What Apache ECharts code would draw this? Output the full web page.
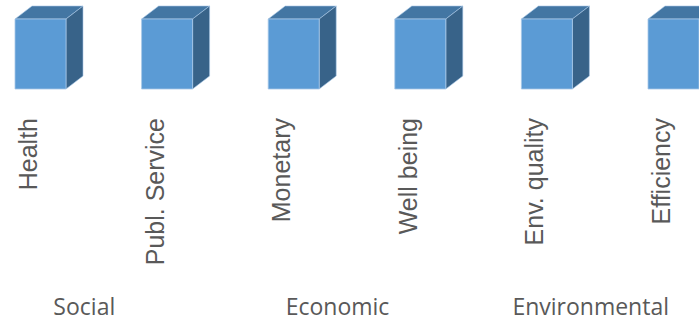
<!DOCTYPE html>
<html>
<head>
<meta charset="utf-8">
<script src="https://cdn.jsdelivr.net/npm/echarts@6/dist/echarts.min.js"></script>
<style>html,body{margin:0;padding:0;background:#fff;}#c{width:699px;height:323px;}</style>
</head>
<body>
<div id="c"></div>
<script>
const categories = ['Health', 'Publ. Service', 'Monetary', 'Well being', 'Env. quality', 'Efficiency'];
const values = [1, 1, 1, 1, 1, 1];
const groups = ['Social', 'Economic', 'Environmental'];
const groupStart = [0, 2, 4];
const groupEnd = [1, 3, 5];

const chart = echarts.init(document.getElementById('c'), null, {renderer: 'svg'});

const boxData = categories.map((c, i) => [i, values[i]]);
const groupData = groups.map((g, i) => [groupStart[i], groupEnd[i], g]);

chart.setOption({
  animation: false,
  grid: {left: 28, right: 38, top: 19, bottom: 234, containLabel: false},
  xAxis: {
    type: 'category',
    data: categories,
    boundaryGap: false,
    axisLine: {show: false},
    axisTick: {show: false},
    splitLine: {show: false},
    axisLabel: {
      rotate: 90,
      margin: 29,
      fontSize: 25,
      fontFamily: 'Liberation Sans',
      color: '#595959',
      interval: 0
    }
  },
  yAxis: {
    type: 'value', min: 0, max: 1, show: false
  },
  series: [
    {
      type: 'custom',
      data: boxData,
      renderItem: function (params, api) {
        const base = api.coord([api.value(0), 0]);
        const top = api.coord([api.value(0), api.value(1)]);
        const w = 51, dx = 17, dy = 13;
        const x0 = base[0] - 13;
        const yt = top[1], yb = base[1];
        const stroke = '#a7c7e7';
        return {
          type: 'group',
          children: [
            {type: 'polygon', shape: {points: [[x0, yt], [x0 + dx, yt - dy], [x0 + w + dx, yt - dy], [x0 + w, yt]]},
             style: {fill: '#4376a3', stroke: stroke, lineWidth: 0.6}},
            {type: 'polygon', shape: {points: [[x0 + w, yt], [x0 + w + dx, yt - dy], [x0 + w + dx, yb - dy], [x0 + w, yb]]},
             style: {fill: '#386389', stroke: stroke, lineWidth: 0.6}},
            {type: 'rect', shape: {x: x0, y: yt, width: w, height: yb - yt},
             style: {fill: '#5b9bd5', stroke: stroke, lineWidth: 0.8}}
          ]
        };
      }
    },
    {
      type: 'custom',
      data: groupData,
      renderItem: function (params, api) {
        const a = api.coord([api.value(0), 0]);
        const b = api.coord([api.value(1), 0]);
        return {
          type: 'text',
          style: {
            text: groups[params.dataIndex],
            x: (a[0] + b[0]) / 2 - 7,
            y: a[1] + 217,
            align: 'center',
            verticalAlign: 'middle',
            fontSize: 23,
            fontFamily: 'Open Sans',
            fill: '#595959'
          }
        };
      }
    }
  ]
});
</script>
</body>
</html>
